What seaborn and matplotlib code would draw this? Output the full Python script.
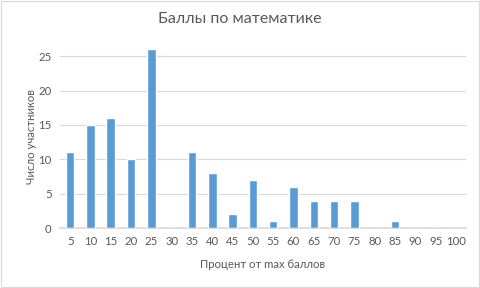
import matplotlib
matplotlib.use("Agg")
import matplotlib.pyplot as plt
import seaborn as sns
import pandas as pd
from matplotlib.patches import Rectangle

categories = ["5", "10", "15", "20", "25", "30", "35", "40", "45", "50",
              "55", "60", "65", "70", "75", "80", "85", "90", "95", "100"]
counts = [11, 15, 16, 10, 26, 0, 11, 8, 2, 7, 1, 6, 4, 4, 4, 0, 1, 0, 0, 0]
yticks = [0, 5, 10, 15, 20, 25]

sns.set_theme(style="white")
plt.rcParams['font.family'] = ['Lato', 'DejaVu Sans']
text_color = "#595959"

df = pd.DataFrame({"cat": categories, "count": counts})

fig = plt.figure(figsize=(4.8, 2.88), dpi=100)
ax = fig.add_axes([0.125, 0.208, 0.846, 0.633])
sns.barplot(data=df, x="cat", y="count", order=categories, color="#5B9BD5",
            width=0.42, saturation=1, ax=ax, zorder=3)

ax.set_ylim(0, 26.5)
ax.set_xlim(-0.5, len(categories) - 0.5)
ax.set_yticks(yticks)
ax.yaxis.grid(True, color="#D9D9D9", linewidth=0.8, zorder=0)
for s in ["top", "right", "left"]:
    ax.spines[s].set_visible(False)
ax.spines["bottom"].set_color("#D9D9D9")
ax.tick_params(axis="both", length=0, labelsize=8.2, colors=text_color, pad=6)
ax.set_xlabel("Процент от max баллов", fontsize=8.2, color=text_color, labelpad=8)
ax.set_ylabel("Число участников", fontsize=8.2, color=text_color, labelpad=1)
fig.suptitle("Баллы по математике", fontsize=11.5, color=text_color, y=0.96)

fig.patches.append(Rectangle((0.002, 0.003), 0.995, 0.994, transform=fig.transFigure,
                             fill=False, edgecolor="#D9D9D9", linewidth=0.8))
fig.savefig("out.png", dpi=100)
